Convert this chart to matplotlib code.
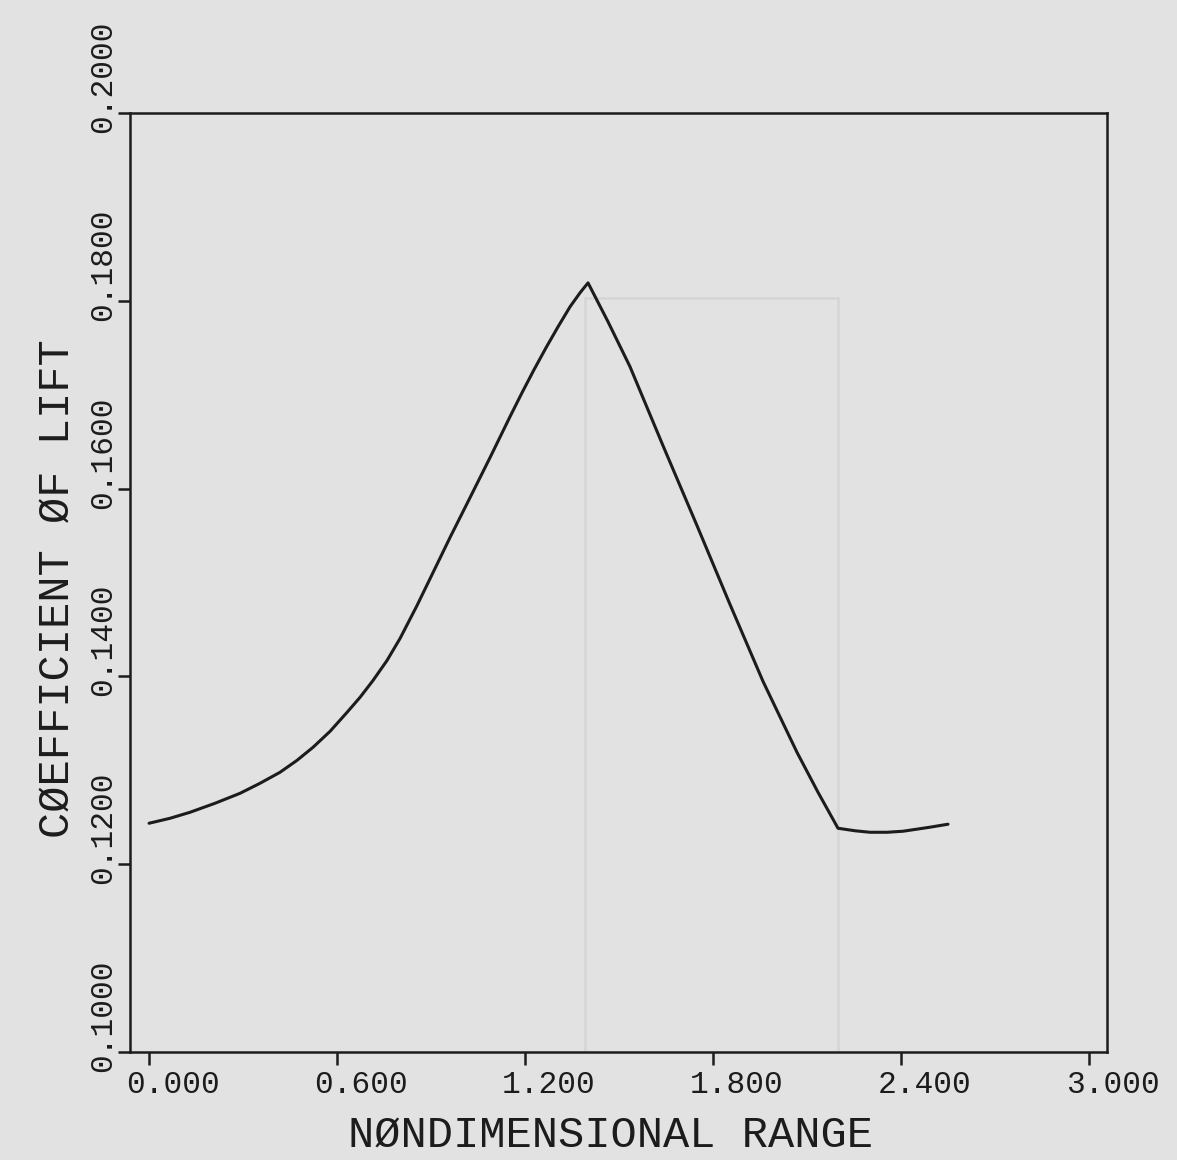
import matplotlib
matplotlib.use("Agg")
import matplotlib.pyplot as plt
from matplotlib.transforms import ScaledTranslation

# Lift coefficient along the nondimensional range
range_x = [0.0000, 0.0670, 0.1309, 0.2106, 0.2904, 0.3543, 0.4181, 0.4723, 0.5234,
           0.5777, 0.6319, 0.6734, 0.7149, 0.7596, 0.8011, 0.8553, 0.9064, 0.9606,
           1.0149, 1.0883, 1.1521, 1.1904, 1.2287, 1.2670, 1.3053, 1.3436, 1.3755, 1.4011,
           1.4649, 1.5351, 1.6404, 1.7489, 1.8543, 1.9596, 2.0681, 2.1351, 2.1989,
           2.2532, 2.3011, 2.3553, 2.4064, 2.4926, 2.5500]
lift_coef = [0.12436, 0.12489, 0.12553, 0.12649, 0.12755, 0.12862, 0.12979, 0.13106, 0.13245,
             0.13415, 0.13617, 0.13777, 0.13957, 0.14170, 0.14404, 0.14755, 0.15106, 0.15479,
             0.15840, 0.16330, 0.16766, 0.17021, 0.17266, 0.17500, 0.17723, 0.17936, 0.18085, 0.18191,
             0.17777, 0.17298, 0.16457, 0.15606, 0.14766, 0.13947, 0.13191, 0.12766, 0.12383,
             0.12356, 0.12340, 0.12340, 0.12351, 0.12394, 0.12426]

x_ticks = [0.0, 0.6, 1.2, 1.8, 2.4, 3.0]
x_tick_labels = ["0.000", "0.600", "1.200", "1.800", "2.400", "3.000"]
y_ticks = [0.10, 0.12, 0.14, 0.16, 0.18, 0.20]
y_tick_labels = ["0.1000", "0.1200", "0.1400", "0.1600", "0.1800", "0.2000"]

BG = "#e2e2e2"
INK = "#1c1c1c"
GHOST = "#d5d5d5"

plt.rcParams["font.family"] = ["Liberation Mono", "DejaVu Sans Mono", "DejaVu Sans"]

fig = plt.figure(figsize=(11.77, 11.60), dpi=100, facecolor=BG)
ax = fig.add_axes([0.1105, 0.0931, 0.830, 0.8095])
ax.set_facecolor(BG)

# faint show-through lines from the reverse of the sheet
for xs, ys in [([0.4657, 0.4657], [0.0, 0.803]),
               ([0.4657, 0.7247], [0.803, 0.803]),
               ([0.7247, 0.7247], [0.803, 0.0])]:
    ax.plot(xs, ys, transform=ax.transAxes, color=GHOST, lw=1.8, zorder=0.5)

ax.plot(range_x, lift_coef, color=INK, lw=2.2, solid_joinstyle="round",
        solid_capstyle="round", zorder=3)

ax.set_xlim(-0.0606, 3.0574)
ax.set_ylim(0.10, 0.20)

for s in ax.spines.values():
    s.set_linewidth(1.8)
    s.set_color(INK)

ax.set_xticks(x_ticks, x_tick_labels)
ax.set_yticks(y_ticks, y_tick_labels)
ax.tick_params(axis="x", direction="out", length=9.4, width=1.8, pad=3.2,
               labelsize=22.5, colors=INK)
ax.tick_params(axis="y", direction="out", length=8.6, width=1.8, pad=0,
               labelsize=22.5, colors=INK)

# labels start just before their tick, as on a pen plotter
x_shift = ScaledTranslation(-23 / 100, 0, fig.dpi_scale_trans)
for lab in ax.get_xticklabels():
    lab.set_horizontalalignment("left")
    lab.set_transform(lab.get_transform() + x_shift)

y_shift = ScaledTranslation(0, -20 / 100, fig.dpi_scale_trans)
for lab in ax.get_yticklabels():
    lab.set_rotation(90)
    lab.set_rotation_mode("default")
    lab.set_horizontalalignment("right")
    lab.set_verticalalignment("bottom")
    lab.set_transform(lab.get_transform() + y_shift)

ax.set_xlabel("NØNDIMENSIONAL RANGE", fontsize=31.5, color=INK)
ax.xaxis.set_label_coords(0.4918, -0.0665)
ax.set_ylabel("CØEFFICIENT ØF LIFT", fontsize=31.5, color=INK)
ax.yaxis.set_label_coords(-0.0540, 0.494)

fig.savefig("out.png", dpi=100, facecolor=BG)
